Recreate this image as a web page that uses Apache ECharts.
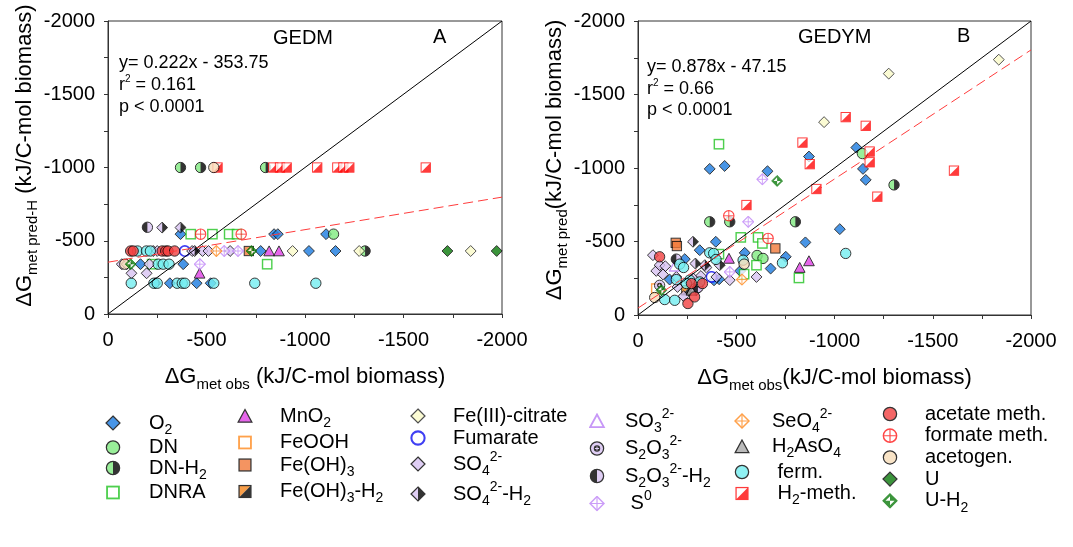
<!DOCTYPE html>
<html>
<head>
<meta charset="utf-8">
<script src="https://cdn.jsdelivr.net/npm/echarts@6/dist/echarts.min.js"></script>
<style>
  html, body { margin: 0; padding: 0; background: #fff; }
  #chart { width: 1073px; height: 547px; }
</style>
</head>
<body>
<div id="chart"></div>
<script>
// panel A, GEDM : [dG obs, dG pred-H]
var O2_A = [[-368,-545],[-843,-545],[-862,-545],[-1107,-545],[-775,-430],[-1020,-430],[-1155,-430],[-165,-340],[-382,-340],[-240,-210],[-314,-210],[-450,-210],[-521,-210]];
var DN_A = [[-1145,-545]];
var DNH2_A = [[-368,-1000],[-470,-1000],[-800,-1000],[-1305,-430]];
var DNRA_A = [[-420,-545],[-530,-545],[-615,-545],[-655,-545],[-224,-340],[-808,-340]];
var MnO2_A = [[-465,-278],[-818,-430],[-868,-430]];
var FeOOH_A = [];
var FeOH3_A = [[-715,-430]];
var FeOH3H2_A = [];
var FeCit_A = [[-937,-430],[-1275,-430],[-1841,-430]];
var Fum_A = [[-390,-430]];
var SO4_A = [[-230,-430],[-250,-430],[-427,-430],[-480,-430],[-510,-430],[-620,-430],[-70,-340],[-95,-340],[-210,-340],[-119,-278],[-196,-278]];
var SO4H2_A = [[-275,-590],[-368,-590],[-440,-430]];
var SO3_A = [];
var S2O3_A = [];
var S2O3H2_A = [[-200,-592]];
var S0_A = [[-590,-430],[-660,-430],[-466,-340]];
var SeO4_A = [[-550,-430]];
var H2AsO4_A = [];
var ferm_A = [[-150,-430],[-195,-430],[-215,-430],[-255,-340],[-280,-340],[-310,-340],[-118,-210],[-233,-210],[-250,-210],[-351,-210],[-377,-210],[-390,-210],[-537,-210],[-745,-210],[-1055,-210]];
var acet_A = [[-115,-430],[-128,-430],[-275,-430],[-293,-430],[-305,-430],[-338,-430]];
var form_A = [[-470,-545],[-676,-545]];
var acgen_A = [[-537,-1000],[-85,-340]];
var H2meth_A = [[-556,-1000],[-839,-1000],[-873,-1000],[-907,-1000],[-1062,-1000],[-1164,-1000],[-1195,-1000],[-1225,-1000],[-1613,-1000]];
var U_A = [[-1723,-430],[-1973,-430]];
var UH2_A = [[-728,-430],[-115,-340]];

// panel B, GEDYM : [dG obs, dG pred]
var O2_B = [[-1111,-1139],[-870,-1078],[-1145,-994],[-1159,-919],[-365,-994],[-441,-1014],[-659,-978],[-1027,-584],[-852,-494],[-396,-498],[-314,-441],[-543,-423],[-752,-396],[-675,-316],[-413,-243],[-387,-236],[-161,-241],[-238,-380],[-520,-300]];
var DN_B = [[-1142,-1098],[-606,-405],[-636,-385]];
var DNH2_B = [[-1303,-885],[-365,-634],[-467,-634],[-801,-634]];
var DNRA_B = [[-412,-1162],[-523,-528],[-611,-528],[-633,-487],[-412,-414],[-819,-252],[-603,-339],[-540,-278]];
var MnO2_B = [[-870,-368],[-823,-323],[-463,-385]];
var FeOOH_B = [[-93,-180]];
var FeOH3_B = [[-192,-491],[-198,-469],[-699,-453]];
var FeOH3H2_B = [[-246,-168]];
var FeCit_B = [[-1836,-1737],[-1276,-1642],[-947,-1312]];
var Fum_B = [[-374,-259]];
var SO4_B = [[-76,-407],[-93,-300],[-110,-339],[-139,-332],[-127,-276],[-195,-259],[-201,-191],[-232,-128],[-297,-168],[-399,-259],[-348,-323],[-467,-237],[-603,-259],[-320,-265],[-280,-250]];
var SO4H2_B = [[-280,-498],[-416,-339],[-340,-339],[-292,-350]];
var SO3_B = [[-187,-332]];
var S2O3_B = [[-110,-202]];
var S2O3H2_B = [[-195,-380],[-305,-187]];
var S0_B = [[-633,-923],[-561,-634],[-467,-293]];
var SeO4_B = [[-529,-241]];
var H2AsO4_B = [[-272,-168]];
var ferm_B = [[-1057,-419],[-365,-423],[-735,-355],[-535,-373],[-212,-346],[-232,-323],[-195,-241],[-136,-105],[-187,-100],[-314,-225],[-263,-237],[-246,-214],[-385,-419],[-397,-378]];
var acet_B = [[-110,-396],[-254,-78],[-272,-214],[-288,-123],[-328,-214]];
var form_B = [[-462,-675],[-662,-521]];
var acgen_B = [[-85,-119],[-540,-346]];
var H2meth_B = [[-1057,-1346],[-1159,-1287],[-837,-1173],[-1179,-1112],[-1179,-1039],[-874,-1026],[-1608,-982],[-908,-857],[-1218,-805],[-552,-748]];
var U_B = [];
var UH2_B = [[-708,-912],[-119,-168]];

// 1:1 lines and fitted regressions (y = 0.222x - 353.75, y = 0.878x - 47.15)
var oneToOne = [[0, 0], [-2000, -2000]];
var fitA = [[0, -353.75], [-2000, -797.75]];
var fitB = [[0, -47.15], [-2000, -1803.15]];

var FONT = 'Liberation Sans, Arial, sans-serif';

// ---- marker drawings (svg, 14x14 box) ----
var DIA = '7,0.9 13.1,7 7,13.1 0.9,7';
function svgUri(inner, w, scale) {
  w = w || 14;
  scale = scale || 1;
  var s = '<svg xmlns="http://www.w3.org/2000/svg" width="' + (w * scale) + '" height="' + (14 * scale) + '" viewBox="0 0 ' + w + ' 14">' + inner + '</svg>';
  return 'image://data:image/svg+xml;charset=utf-8,' + encodeURIComponent(s);
}
function diamond(f, s, sw) { return '<polygon points="' + DIA + '" fill="' + f + '" stroke="' + s + '" stroke-width="' + sw + '"/>'; }
function circle(f, s, sw) { return '<circle cx="7" cy="7" r="5.8" fill="' + f + '" stroke="' + s + '" stroke-width="' + sw + '"/>'; }
function square(f, s, sw) { return '<rect x="1.8" y="1.8" width="10.4" height="10.4" fill="' + f + '" stroke="' + s + '" stroke-width="' + sw + '"/>'; }
function tri(f, s, sw) { return '<polygon points="7,1.3 13,12.4 1,12.4" fill="' + f + '" stroke="' + s + '" stroke-width="' + sw + '"/>'; }
function halfCircle(l, r) {
  return '<circle cx="7" cy="7" r="5.8" fill="' + r + '"/>' +
    '<path d="M7,1.2 A5.8,5.8 0 0,0 7,12.8 Z" fill="' + l + '"/>' + circle('none', '#000', 1.1);
}
function halfDiamond(l, r) {
  return '<polygon points="7,0.9 0.9,7 7,13.1" fill="' + l + '"/>' +
    '<polygon points="7,0.9 13.1,7 7,13.1" fill="' + r + '"/>' + diamond('none', '#000', 1.1);
}
function diagSquare(ul, lr, s) {
  return '<polygon points="1.8,1.8 12.2,1.8 1.8,12.2" fill="' + ul + '"/>' +
    '<polygon points="12.2,1.8 12.2,12.2 1.8,12.2" fill="' + lr + '"/>' + square('none', s, 1.1);
}
function crossDiamond(c) { return diamond('#fff', c, 1.3) + '<path d="M7,0.9 V13.1 M0.9,7 H13.1" stroke="' + c + '" stroke-width="1"/>'; }
function crossCircle(c) { return circle('#fff', c, 1.3) + '<path d="M7,1.2 V12.8 M1.2,7 H12.8" stroke="' + c + '" stroke-width="1"/>'; }

var LILAC = '#d8c2f2';
var markers = {
  'O2': diamond('#1b7be0', '#000', 1.1),
  'DN': circle('#80ea80', '#000', 1.1),
  'DN-H2': halfCircle('#80ea80', '#000'),
  'DNRA': square('#fff', '#22c422', 1.6),
  'MnO2': tri('#e040e6', '#000', 1.1),
  'FeOOH': square('#fff', '#ff8a1e', 1.6),
  'Fe(OH)3': square('#f27a3a', '#000', 1.1),
  'Fe(OH)3-H2': diagSquare('#f7861c', '#000', '#000'),
  'Fe(III)-citrate': diamond('#fbfbc8', '#222', 1.1),
  'Fumarate': circle('#fff', '#1010f0', 1.8),
  'SO4': diamond(LILAC, '#000', 1.1),
  'SO4-H2': halfDiamond(LILAC, '#000'),
  'SO3': tri('#fff', '#b97ef5', 1.6),
  'S2O3': circle(LILAC, '#000', 1.1) + '<circle cx="7" cy="7" r="2.8" fill="#000"/><path d="M7,5.2 V8.8 M5.2,7 H8.8" stroke="' + LILAC + '" stroke-width="0.9"/>',
  'S2O3-H2': halfCircle('#000', LILAC),
  'S0': crossDiamond('#bf85f7'),
  'SeO4': crossDiamond('#ff8a1e'),
  'H2AsO4': tri('#a9a9a9', '#000', 1.1),
  'ferm.': circle('#74eef0', '#000', 1.1),
  'H2-meth.': diagSquare('#fff', '#ff0a0a', '#ff0a0a'),
  'acetate meth.': circle('#f24040', '#000', 1.1),
  'formate meth.': crossCircle('#ff1a1a'),
  'acetogen.': circle('#f7dcb8', '#000', 1.1),
  'U': diamond('#0b7a0b', '#000', 1.1),
  'U-H2': diamond('#0b7a0b', '#0b7a0b', 1.1) + '<polygon points="7,7 7,3 3,7" fill="#fff"/><polygon points="7,7 7,11 11,7" fill="#fff"/>'
};

var labels = {
  'O2': '{n|O}{b|2}',
  'DN': '{n|DN}',
  'DN-H2': '{n|DN-H}{b|2}',
  'DNRA': '{n|DNRA}',
  'MnO2': '{n|MnO}{b|2}',
  'FeOOH': '{n|FeOOH}',
  'Fe(OH)3': '{n|Fe(OH)}{b|3}',
  'Fe(OH)3-H2': '{n|Fe(OH)}{b|3}{n|-H}{b|2}',
  'Fe(III)-citrate': '{n|Fe(III)-citrate}',
  'Fumarate': '{n|Fumarate}',
  'SO4': '{n|SO}{b|4}{p|2-}',
  'SO4-H2': '{n|SO}{b|4}{p|2-}{n|-H}{b|2}',
  'SO3': '{n|SO}{b|3}{p|2-}',
  'S2O3': '{n|S}{b|2}{n|O}{b|3}{p|2-}',
  'S2O3-H2': '{n|S}{b|2}{n|O}{b|3}{p|2-}{n|-H}{b|2}',
  'S0': '{n| S}{p|0}',
  'SeO4': '{n|SeO}{b|4}{p|2-}',
  'H2AsO4': '{n|H}{b|2}{n|AsO}{b|4}',
  'ferm.': '{n| ferm.}',
  'H2-meth.': '{n| H}{b|2}{n|-meth.}',
  'acetate meth.': '{n|acetate meth.}',
  'formate meth.': '{n|formate meth.}',
  'acetogen.': '{n|acetogen.}',
  'U': '{n|U}',
  'U-H2': '{n|U-H}{b|2}'
};

var cats = [
  ['O2', O2_A, O2_B], ['DN', DN_A, DN_B], ['DN-H2', DNH2_A, DNH2_B], ['DNRA', DNRA_A, DNRA_B],
  ['MnO2', MnO2_A, MnO2_B], ['FeOOH', FeOOH_A, FeOOH_B], ['Fe(OH)3', FeOH3_A, FeOH3_B], ['Fe(OH)3-H2', FeOH3H2_A, FeOH3H2_B],
  ['Fe(III)-citrate', FeCit_A, FeCit_B], ['Fumarate', Fum_A, Fum_B], ['SO4', SO4_A, SO4_B], ['SO4-H2', SO4H2_A, SO4H2_B],
  ['SO3', SO3_A, SO3_B], ['S2O3', S2O3_A, S2O3_B], ['S2O3-H2', S2O3H2_A, S2O3H2_B], ['S0', S0_A, S0_B],
  ['SeO4', SeO4_A, SeO4_B], ['H2AsO4', H2AsO4_A, H2AsO4_B], ['ferm.', ferm_A, ferm_B], ['H2-meth.', H2meth_A, H2meth_B],
  ['acetate meth.', acet_A, acet_B], ['formate meth.', form_A, form_B], ['acetogen.', acgen_A, acgen_B],
  ['U', U_A, U_B], ['U-H2', UH2_A, UH2_B]
];

var series = [];
cats.forEach(function (c) {
  var sym = svgUri(markers[c[0]]);
  [c[1], c[2]].forEach(function (d, i) {
    series.push({ type: 'scatter', name: c[0], xAxisIndex: i, yAxisIndex: i, data: d, symbol: sym, symbolSize: 12.5, z: 3 });
  });
});
function refLine(d, i, color, type) {
  return { type: 'line', name: 'ref', xAxisIndex: i, yAxisIndex: i, data: d, symbol: 'none', silent: true, z: 4,
    lineStyle: { color: color, width: 1, type: type } };
}
series.push(refLine(oneToOne, 0, '#000', 'solid'), refLine(fitA, 0, '#ff3b3b', [10, 5]));
series.push(refLine(oneToOne, 1, '#000', 'solid'), refLine(fitB, 1, '#ff3b3b', [10, 5]));

// ---- legend: six columns ----
var legendRich = {
  n: { fontSize: 20, lineHeight: 28, fontFamily: FONT, color: '#000' },
  b: { fontSize: 14, lineHeight: 12, verticalAlign: 'bottom', fontFamily: FONT, color: '#000' },
  p: { fontSize: 14, lineHeight: 12, verticalAlign: 'top', fontFamily: FONT, color: '#000' }
};
var cols = [
  { names: ['O2', 'DN', 'DN-H2', 'DNRA'], x: 113, y: 427, d: 36, h: 28.5 },
  { names: ['MnO2', 'FeOOH', 'Fe(OH)3', 'Fe(OH)3-H2'], x: 245, y: 420, d: 35, h: 30.5 },
  { names: ['Fe(III)-citrate', 'Fumarate', 'SO4', 'SO4-H2'], x: 418, y: 420, d: 35, h: 30 },
  { names: ['SO3', 'S2O3', 'S2O3-H2', 'S0'], x: 597, y: 421, d: 28, h: 27.5 },
  { names: ['SeO4', 'H2AsO4', 'ferm.', 'H2-meth.'], x: 742, y: 421, d: 30, h: 29.5 },
  { names: ['acetate meth.', 'formate meth.', 'acetogen.', 'U', 'U-H2'], x: 890, y: 418, d: 35, h: 29.7 }
];
var LS = 16 / 14; // legend icons a bit larger than plot marks
var legends = cols.map(function (col) {
  var iw = col.d + 3;
  return {
    orient: 'vertical', left: col.x - 8, top: col.y - 14, padding: 0,
    itemGap: col.h - 28, itemWidth: iw, itemHeight: 16, selectedMode: false,
    data: col.names.map(function (n) { return { name: n, icon: svgUri(markers[n], iw / LS, LS) }; }),
    formatter: function (n) { return labels[n]; },
    textStyle: { rich: legendRich, fontSize: 20, fontFamily: FONT, color: '#000' }
  };
});

// ---- axes ----
var nameRich = {
  d: { fontSize: 22, lineHeight: 30, fontFamily: FONT, color: '#000' },
  s: { fontSize: 15, lineHeight: 15, verticalAlign: 'bottom', fontFamily: FONT, color: '#000' }
};
function valAxis(i, name, gap, pad, labelMargin) {
  return {
    type: 'value', gridIndex: i, min: -2000, max: 0, interval: 500, inverse: true,
    name: name, nameLocation: 'middle', nameGap: gap,
    nameTextStyle: { rich: nameRich, padding: pad },
    axisLine: { show: true, lineStyle: { color: '#333', width: 1 } },
    axisTick: { show: true, length: 4, lineStyle: { color: '#333' } },
    minorTick: { show: true, splitNumber: 2, length: 4, lineStyle: { color: '#333' } },
    splitLine: { show: false },
    axisLabel: { fontSize: 20, fontFamily: FONT, color: '#000', margin: labelMargin, formatter: function (v) { return String(v); } }
  };
}

var chart = echarts.init(document.getElementById('chart'));
chart.setOption({
  animation: false,
  grid: [
    { left: 108, top: 21, width: 394, height: 293, show: true, borderColor: '#333', borderWidth: 1 },
    { left: 638, top: 21, width: 393, height: 294, show: true, borderColor: '#333', borderWidth: 1 }
  ],
  xAxis: [
    valAxis(0, '{d|ΔG}{s|met obs}{d| (kJ/C-mol biomass)}', 48, 0, 16),
    valAxis(1, '{d|ΔG}{s|met obs}{d|(kJ/C-mol biomass)}', 48, 0, 16)
  ],
  yAxis: [
    valAxis(0, '{d|ΔG}{s|met pred-H}{d| (kJ/C-mol biomass)}', 64, [0, 0, 0, 24], 13),
    valAxis(1, '{d|ΔG}{s|met pred}{d|(kJ/C-mol biomass)}', 58, [0, 0, 0, 16], 13)
  ],
  legend: legends,
  series: series,
  graphic: [
    { type: 'text', x: 273, y: 38, style: { text: 'GEDM', font: '20px ' + FONT, fill: '#000', verticalAlign: 'middle' } },
    { type: 'text', x: 433, y: 37, style: { text: 'A', font: '20px ' + FONT, fill: '#000', verticalAlign: 'middle' } },
    { type: 'text', x: 119, y: 63, style: { text: 'y= 0.222x - 353.75', font: '18px ' + FONT, fill: '#000', verticalAlign: 'middle' } },
    { type: 'text', x: 119, y: 85, style: { text: '{n|r}{p|2}{n| = 0.161}', verticalAlign: 'middle',
      rich: { n: { fontSize: 18, lineHeight: 22, fontFamily: FONT, color: '#000' }, p: { fontSize: 10, lineHeight: 12, verticalAlign: 'top', fontFamily: FONT, color: '#000' } } } },
    { type: 'text', x: 119, y: 107, style: { text: 'p < 0.0001', font: '18px ' + FONT, fill: '#000', verticalAlign: 'middle' } },
    { type: 'text', x: 798, y: 37, style: { text: 'GEDYM', font: '20px ' + FONT, fill: '#000', verticalAlign: 'middle' } },
    { type: 'text', x: 957, y: 36, style: { text: 'B', font: '20px ' + FONT, fill: '#000', verticalAlign: 'middle' } },
    { type: 'text', x: 647, y: 67, style: { text: 'y= 0.878x - 47.15', font: '18px ' + FONT, fill: '#000', verticalAlign: 'middle' } },
    { type: 'text', x: 647, y: 89, style: { text: '{n|r}{p|2}{n| = 0.66}', verticalAlign: 'middle',
      rich: { n: { fontSize: 18, lineHeight: 22, fontFamily: FONT, color: '#000' }, p: { fontSize: 10, lineHeight: 12, verticalAlign: 'top', fontFamily: FONT, color: '#000' } } } },
    { type: 'text', x: 647, y: 110, style: { text: 'p < 0.0001', font: '18px ' + FONT, fill: '#000', verticalAlign: 'middle' } }
  ]
});
</script>
</body>
</html>
